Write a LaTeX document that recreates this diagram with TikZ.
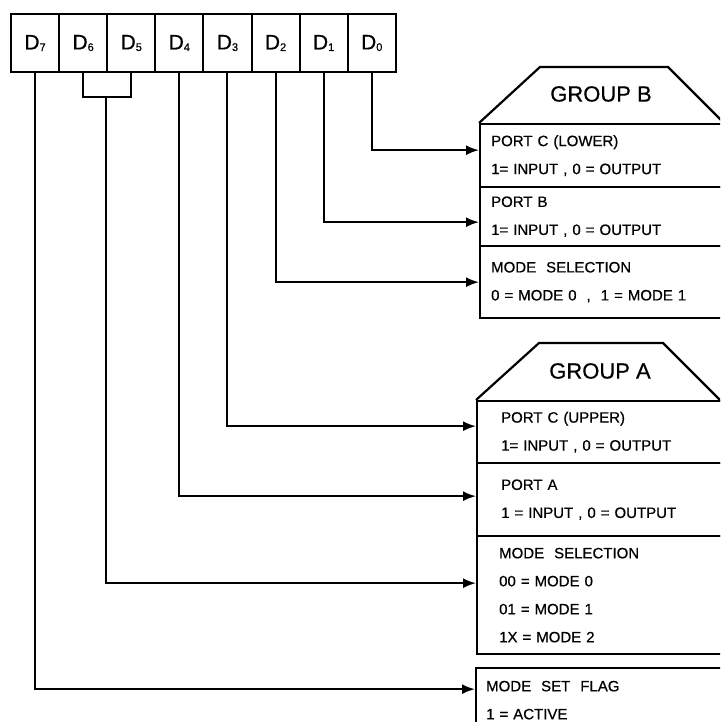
\documentclass[tikz,border=0pt]{standalone}
\usepackage{fontspec}
\setmainfont[FakeBold=0.6]{Liberation Sans}
\newfontfamily\rowfont[WordSpace=2.0,FakeBold=0.6]{Liberation Sans}
\usetikzlibrary{arrows.meta}
\newcommand\Dsub[1]{D\raisebox{-1.5pt}{\fontsize{11}{11}\selectfont #1}}
\begin{document}
\begin{tikzpicture}[x=1pt,y=-1pt,
  cell/.style={draw, line width=2pt, minimum width=48.1pt, minimum height=58pt, inner sep=0pt, anchor=north west, font=\fontsize{21}{21}\selectfont},
  row/.style={draw, line width=2.3pt, anchor=north west, text width=260pt, align=left, inner ysep=0pt, font=\rowfont\fontsize{15}{28}\selectfont},
  wire/.style={line width=2pt},
  arr/.style={wire, -{Latex[length=13pt,width=10pt]}},
  hdr/.style={line width=2.2pt},
  title/.style={font=\fontsize{22}{22}\selectfont}]
\useasboundingbox (0,0) rectangle (720,722);
\clip (0,0) rectangle (720,722);
% register
\foreach \i [count=\k from 0] in {7,6,5,4,3,2,1,0}
  \node[cell] (d\i) at ({10+48.1*\k},13) {\Dsub{\i}};
% group B
\node[row, inner xsep=11pt, minimum height=63pt] (pcl) at (479,123) {PORT C (LOWER)\\1= INPUT , 0 = OUTPUT};
\node[row, inner xsep=11pt, minimum height=59pt] (pb) at (479,186) {PORT B\\1= INPUT , 0 = OUTPUT};
\node[row, inner xsep=11pt, minimum height=72pt] (mb) at (479,245) {MODE\ \ SELECTION\\0 = MODE 0 \ , \ 1 = MODE 1};
\draw[hdr] (pcl.north west) -- ++(61,-56) -- ++(128,0) -- ++(58,58);
\node[title] (gb) at (601,94) {GROUP B};
% group A
\node[row, inner xsep=24pt, minimum height=62pt] (pcu) at (476,400) {PORT C (UPPER)\\1= INPUT , 0 = OUTPUT};
\node[row, inner xsep=24pt, minimum height=73pt] (pa) at (476,462) {PORT A\\1 = INPUT , 0 = OUTPUT};
\node[row, inner xsep=22pt, minimum height=118pt] (ma) at (476,535) {MODE\ \ SELECTION\\00 = MODE 0\\01 = MODE 1\\1X = MODE 2};
\draw[hdr] (pcu.north west) -- ++(63,-57) -- ++(124,0) -- ++(60,60);
\node[title] (ga) at (600,371) {GROUP A};
% flag
\node[row, inner xsep=10pt, minimum height=64pt] (flag) at (475,667) {MODE\ \ SET\ \ FLAG\\1 = ACTIVE};
% connectors
\draw[arr] (d0.south) |- ([yshift=5.5pt]pcl.west);
\draw[arr] (d1.south) |- ([yshift=-5.5pt]pb.west);
\draw[arr] (d2.south) |- (mb.west);
\draw[arr] (d3.south) |- ([yshift=6pt]pcu.west);
\draw[arr] (d4.south) |- ([yshift=3.5pt]pa.west);
\coordinate (b65) at (106,97);
\draw[wire] (d6.south) |- (b65) -| (d5.south);
\draw[arr] (b65) |- ([yshift=12pt]ma.west);
\draw[arr] (d7.south) |- ([yshift=11pt]flag.west);
\end{tikzpicture}
\end{document}
